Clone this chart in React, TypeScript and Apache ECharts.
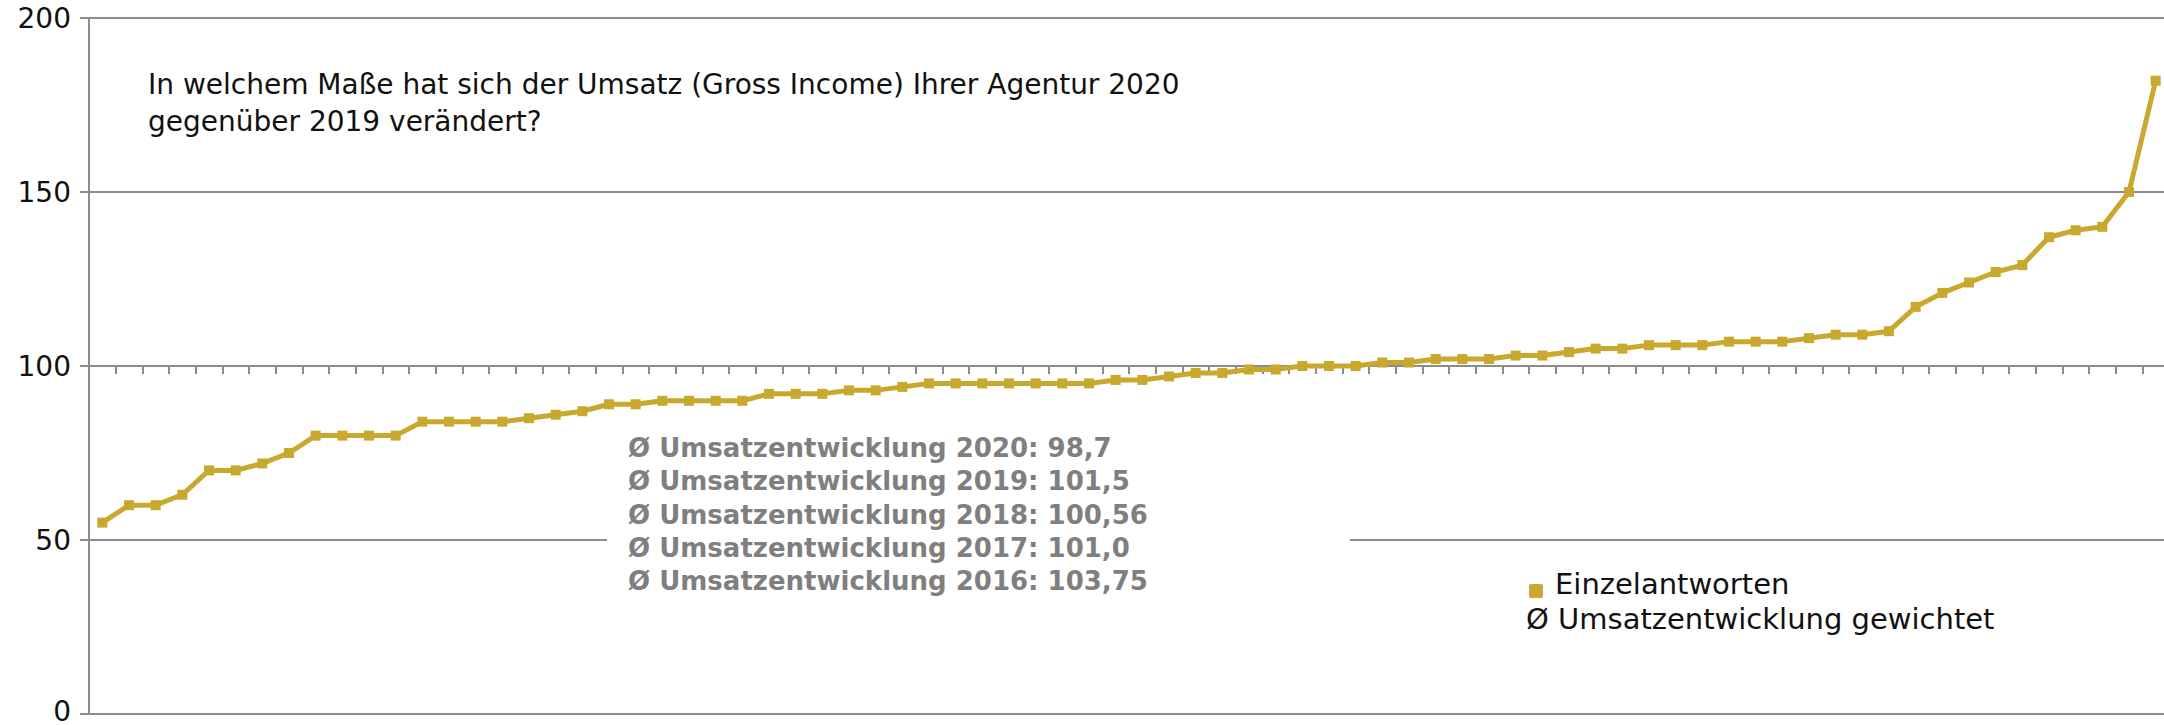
import React, { useEffect, useRef } from "react";
import * as echarts from "echarts";

// Einzelantworten (sorted individual answers)
const einzelantworten: number[] = [
  55, 60, 60, 63, 70, 70, 72, 75, 80, 80, 80, 80, 84, 84, 84, 84, 85, 86, 87, 89,
  89, 90, 90, 90, 90, 92, 92, 92, 93, 93, 94, 95, 95, 95, 95, 95, 95, 95, 96, 96,
  97, 98, 98, 99, 99, 100, 100, 100, 101, 101, 102, 102, 102, 103, 103, 104, 105, 105, 106, 106,
  106, 107, 107, 107, 108, 109, 109, 110, 117, 121, 124, 127, 129, 137, 139, 140, 150, 182,
];
const categories: string[] = einzelantworten.map((_, i) => String(i + 1));

const yMin = 0;
const yMax = 200;
const yInterval = 50;
const xAxisCrossValue = 100;

const titleLines: string[] = [
  "In welchem Maße hat sich der Umsatz (Gross Income) Ihrer Agentur 2020",
  "gegenüber 2019 verändert?",
];

const averageLines: string[] = [
  "Ø Umsatzentwicklung 2020: 98,7",
  "Ø Umsatzentwicklung 2019: 101,5",
  "Ø Umsatzentwicklung 2018: 100,56",
  "Ø Umsatzentwicklung 2017: 101,0",
  "Ø Umsatzentwicklung 2016: 103,75",
];

const legendSeries = "Einzelantworten";
const legendWeighted = "Ø Umsatzentwicklung gewichtet";

const GOLD = "#C9A82E";
const GRID_GRAY = "#8C8C8C";
const FONT = "'DejaVu Sans', 'Noto Sans', sans-serif";

export default function App() {
  const ref = useRef<HTMLDivElement>(null);

  useEffect(() => {
    document.body.style.margin = "0";
    if (!ref.current) return;
    const chart = echarts.init(ref.current, undefined, { renderer: "svg" });

    const gridTop = 18;
    const gridBottom = 11;
    const plotH = 725 - gridTop - gridBottom;
    const crossOffset = -((xAxisCrossValue - yMin) / (yMax - yMin)) * plotH;

    const graphic: any[] = [
      {
        type: "rect",
        z: 50,
        shape: { x: 607, y: 428, width: 743, height: 172 },
        style: { fill: "#ffffff" },
      },
      ...titleLines.map((t, i) => ({
        type: "text",
        z: 60,
        x: 148,
        y: 84 + i * 37,
        style: {
          text: t,
          font: `400 28px ${FONT}`,
          fill: "#111111",
          verticalAlign: "middle",
        },
      })),
      ...averageLines.map((t, i) => ({
        type: "text",
        z: 60,
        x: 628,
        y: 448 + i * 33.3,
        style: {
          text: t,
          font: `700 26px ${FONT}`,
          fill: "#7F7F7F",
          verticalAlign: "middle",
        },
      })),
      {
        type: "rect",
        z: 60,
        shape: { x: 1529, y: 584, width: 14, height: 14, r: 2 },
        style: { fill: GOLD },
      },
      {
        type: "text",
        z: 60,
        x: 1555,
        y: 584,
        style: {
          text: legendSeries,
          font: `400 29px ${FONT}`,
          fill: "#111111",
          verticalAlign: "middle",
        },
      },
      {
        type: "text",
        z: 60,
        x: 1526,
        y: 619,
        style: {
          text: legendWeighted,
          font: `400 29px ${FONT}`,
          fill: "#111111",
          verticalAlign: "middle",
        },
      },
    ];

    chart.setOption({
      animation: false,
      backgroundColor: "#ffffff",
      grid: {
        left: 89,
        right: -5,
        top: gridTop,
        bottom: gridBottom,
        containLabel: false,
        outerBoundsMode: "none",
      },
      xAxis: {
        type: "category",
        data: categories,
        boundaryGap: true,
        position: "bottom",
        offset: crossOffset,
        axisLine: { show: true, onZero: false, lineStyle: { color: GRID_GRAY, width: 2 } },
        axisTick: { show: true, length: 8, inside: false, lineStyle: { color: GRID_GRAY, width: 2 } },
        axisLabel: { show: false },
        splitLine: { show: false },
      },
      yAxis: {
        type: "value",
        min: yMin,
        max: yMax,
        interval: yInterval,
        axisLine: { show: true, lineStyle: { color: GRID_GRAY, width: 2 } },
        axisTick: { show: true, length: 9, lineStyle: { color: GRID_GRAY, width: 2 } },
        axisLabel: {
          show: true,
          margin: 18,
          color: "#111111",
          fontSize: 28,
          lineHeight: 20,
          fontFamily: FONT,
          formatter: (v: number) => (v === yMin ? `{low|${v}}` : String(v)),
          rich: {
            low: { fontSize: 28, lineHeight: 20, fontFamily: FONT, color: "#111111", padding: [0, 0, 6, 0] },
          },
        },
        splitLine: { show: true, lineStyle: { color: GRID_GRAY, width: 2 } },
      },
      series: [
        {
          name: legendSeries,
          type: "line",
          data: einzelantworten,
          symbol: "rect",
          symbolSize: 10,
          showSymbol: true,
          lineStyle: { color: GOLD, width: 5 },
          itemStyle: { color: GOLD },
          z: 5,
        },
      ],
      graphic,
    });

    return () => chart.dispose();
  }, []);

  return <div ref={ref} style={{ width: 2164, height: 725 }} />;
}
